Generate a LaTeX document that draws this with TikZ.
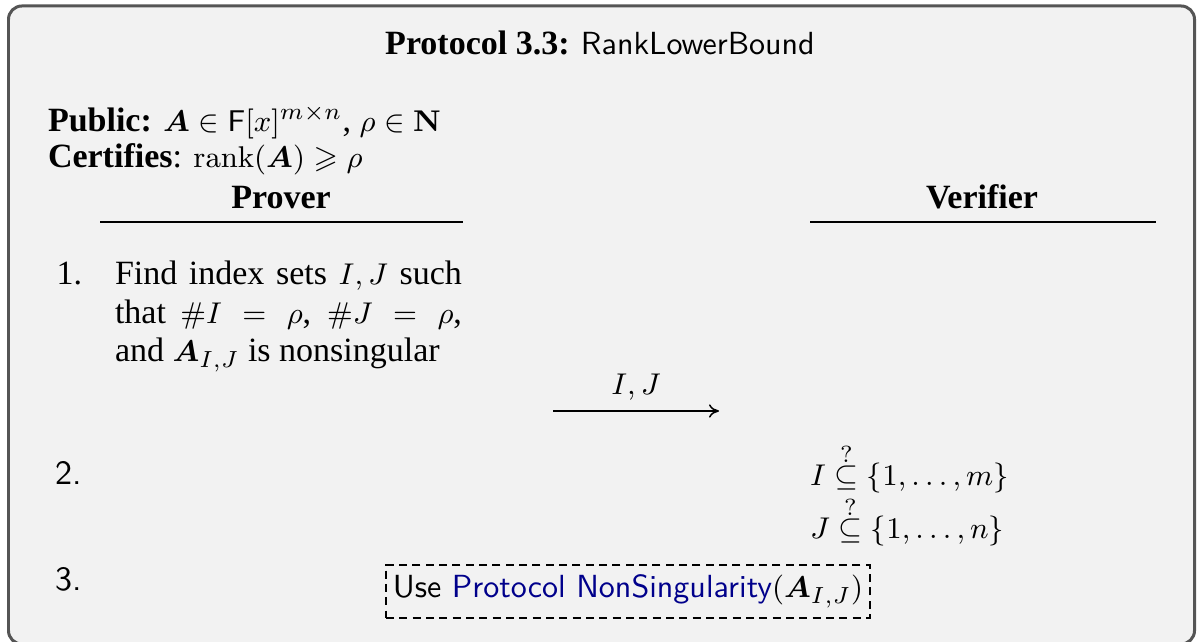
\documentclass[tikz,border=0pt]{standalone}
\usepackage{amsmath,amssymb,bm}
\usepackage[no-math]{fontspec}
\setmainfont{Liberation Serif}
\usetikzlibrary{arrows.meta}
\DeclareMathSizes{10.2}{9.4}{6.6}{4.8}
\DeclareMathSizes{9.6}{9.4}{6.6}{4.8}
\definecolor{framegray}{RGB}{85,85,85}
\definecolor{bggray}{RGB}{242,242,242}
\definecolor{linkblue}{RGB}{0,0,139}
\newcommand{\sfsmall}[1]{{\fontsize{9.6}{11}\selectfont\sffamily #1}}
\newcommand{\sfnum}[1]{{\fontsize{10.2}{11.4}\selectfont\sffamily #1}}
\newcommand{\qsubeq}{\mathrel{\overset{\raisebox{-2pt}{$\scriptstyle ?$}}{\subseteq}}}
\begin{document}
\begin{tikzpicture}[x=0.3pt,y=-0.3pt,
  every node/.style={inner sep=0pt,outer sep=0pt,font=\fontsize{10.2}{11.4}\selectfont},
  txt/.style={anchor=base west},
  num/.style={anchor=base east},
  rule/.style={line width=0.4pt},
  msg/.style={line width=0.45pt,-{To[length=3pt,width=4pt]}},
  subbox/.style={draw,dashed,dash pattern=on 2.4pt off 1.6pt,line width=0.35pt,minimum width=145.2pt,minimum height=15.9pt}]
\useasboundingbox (0,0) rectangle (1200,642);
\draw[line width=0.9pt,draw=framegray,fill=bggray,rounded corners=4pt] (8.5,6) rectangle (1194.5,644);
\node[anchor=base] (title) at (600,55) {\textbf{Protocol 3.3:} \sfsmall{RankLowerBound}};
\node[txt] (public) at (48,132) {\textbf{Public:} $\bm{A}\in\mathsf{F}[x]^{m\times n}$, $\rho\in\mathbf{N}$};
\node[txt] (cert) at (48,168) {\textbf{Certifies}: $\operatorname{rank}(\bm{A})\geqslant\rho$};
\node[anchor=base] (prover) at (281,209) {\textbf{Prover}};
\node[anchor=base] (verifier) at (982,209) {\textbf{Verifier}};
\coordinate (pl) at (100,222); \coordinate (pr) at (463,222);
\coordinate (vl) at (810,222); \coordinate (vr) at (1156,222);
\draw[rule] (pl) -- (pr);
\draw[rule] (vl) -- (vr);
\node[num] (n1) at (82,285) {1.};
\node[txt] (s1a) at (115,285) {\makebox[104.1pt][s]{Find index sets $I,J$ such}};
\node[txt] (s1b) at (115,324) {\makebox[104.1pt][s]{that $\#I = \rho$, $\#J = \rho$,}};
\node[txt] (s1c) at (115,362) {and $\bm{A}_{I,J}$ is nonsingular};
\coordinate (a1) at (553,411); \coordinate (a2) at (719,411);
\draw[msg] (a1) -- node[anchor=base, yshift=5pt] (lab) {$I,J$} (a2);
\node[num] (n2) at (82,485) {\sfnum{2.}};
\node[txt] (c1) at (810,486) {$I \qsubeq \{1,\ldots,m\}$};
\node[txt] (c2) at (810,539) {$J \qsubeq \{1,\ldots,n\}$};
\node[num] (n3) at (82,591) {\sfnum{3.}};
\node[subbox] (use) at (628,591.5) {\sfsmall{Use \textcolor{linkblue}{Protocol NonSingularity}}$(\bm{A}_{I,J})$};
\end{tikzpicture}
\end{document}
